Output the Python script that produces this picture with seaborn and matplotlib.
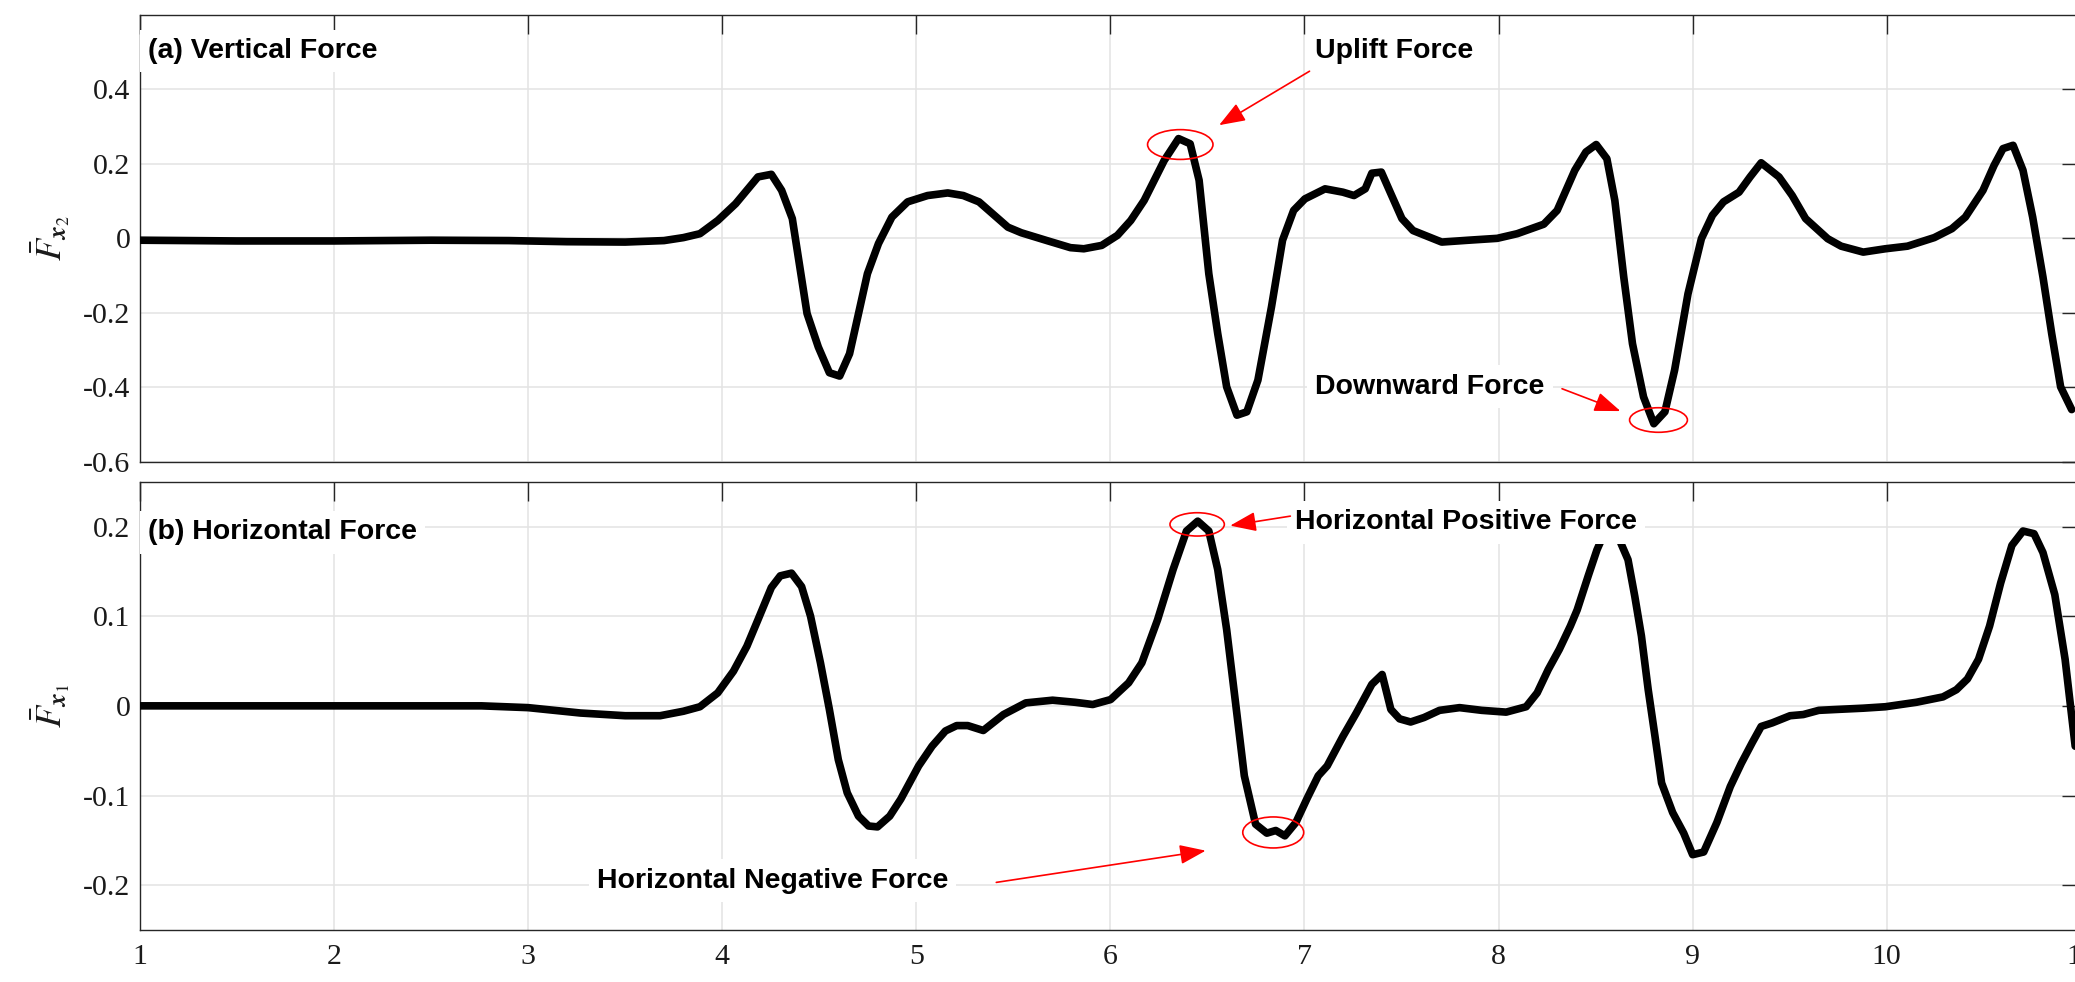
import matplotlib
matplotlib.use("Agg")
import matplotlib.pyplot as plt
from matplotlib.patches import Ellipse
import seaborn as sns

# Non-dimensional time and force coefficients
t_vert = [1.00, 1.50, 2.00, 2.50, 2.90, 3.20, 3.50, 3.70, 3.80, 3.885, 3.977, 4.069,
          4.184, 4.253, 4.306, 4.361, 4.437, 4.495, 4.552, 4.605, 4.656, 4.748, 4.805,
          4.874, 4.955, 5.058, 5.162, 5.242, 5.323, 5.472, 5.541, 5.679, 5.794, 5.863,
          5.955, 6.036, 6.105, 6.174, 6.277, 6.351, 6.411, 6.457, 6.507, 6.553, 6.599,
          6.652, 6.703, 6.760, 6.830, 6.887, 6.944, 7.002, 7.106, 7.198, 7.255, 7.313,
          7.347, 7.396, 7.445, 7.502, 7.559, 7.707, 7.845, 7.993, 8.096, 8.233, 8.302,
          8.393, 8.450, 8.503, 8.558, 8.599, 8.645, 8.690, 8.747, 8.800, 8.857, 8.907,
          8.976, 9.045, 9.102, 9.159, 9.239, 9.296, 9.353, 9.445, 9.513, 9.582, 9.696,
          9.765, 9.879, 9.993, 10.107, 10.245, 10.336, 10.405, 10.496, 10.553, 10.599,
          10.651, 10.702, 10.752, 10.805, 10.850, 10.896, 10.953]
f_vert = [-0.005, -0.007, -0.007, -0.005, -0.006, -0.009, -0.010, -0.006, 0.002, 0.0125,
          0.048, 0.093, 0.165, 0.172, 0.129, 0.053, -0.202, -0.292, -0.361, -0.370,
          -0.310, -0.095, -0.014, 0.057, 0.098, 0.115, 0.122, 0.115, 0.098, 0.030, 0.015,
          -0.007, -0.025, -0.028, -0.019, 0.008, 0.048, 0.102, 0.209, 0.268, 0.254, 0.156,
          -0.095, -0.256, -0.399, -0.475, -0.466, -0.381, -0.184, -0.005, 0.075, 0.106,
          0.133, 0.124, 0.115, 0.133, 0.175, 0.178, 0.120, 0.053, 0.021, -0.010, -0.005,
          0.000, 0.0125, 0.038, 0.075, 0.183, 0.232, 0.252, 0.214, 0.102, -0.104, -0.283,
          -0.426, -0.498, -0.466, -0.354, -0.149, -0.001, 0.062, 0.098, 0.124, 0.165,
          0.203, 0.165, 0.115, 0.053, -0.001, -0.021, -0.037, -0.028, -0.021, 0.002,
          0.026, 0.057, 0.129, 0.196, 0.241, 0.250, 0.183, 0.057, -0.104, -0.256, -0.399,
          -0.460]

t_horiz = [1.00, 2.00, 2.76, 3.00, 3.27, 3.50, 3.68, 3.80, 3.885, 3.977, 4.058, 4.127,
           4.184, 4.253, 4.299, 4.357, 4.409, 4.455, 4.506, 4.552, 4.598, 4.644, 4.702,
           4.754, 4.800, 4.863, 4.920, 5.012, 5.081, 5.150, 5.208, 5.265, 5.345, 5.449,
           5.564, 5.702, 5.817, 5.909, 6.001, 6.094, 6.162, 6.243, 6.323, 6.392, 6.450,
           6.507, 6.553, 6.599, 6.645, 6.690, 6.748, 6.806, 6.852, 6.899, 6.956, 7.014,
           7.071, 7.117, 7.198, 7.267, 7.347, 7.400, 7.445, 7.490, 7.547, 7.616, 7.696,
           7.799, 7.913, 8.039, 8.142, 8.199, 8.256, 8.313, 8.370, 8.405, 8.462, 8.507,
           8.560, 8.600, 8.633, 8.667, 8.702, 8.736, 8.771, 8.806, 8.840, 8.897, 8.954,
           9.000, 9.057, 9.125, 9.194, 9.251, 9.307, 9.353, 9.410, 9.502, 9.570, 9.650,
           9.742, 9.879, 9.993, 10.153, 10.290, 10.359, 10.416, 10.473, 10.530, 10.587,
           10.645, 10.702, 10.759, 10.805, 10.866, 10.919, 10.971]
f_horiz = [0.000, 0.000, 0.000, -0.002, -0.008, -0.011, -0.011, -0.006, -0.001, 0.0145,
           0.0387, 0.0665, 0.096, 0.132, 0.145, 0.148, 0.133, 0.100, 0.048, -0.004,
           -0.060, -0.097, -0.123, -0.134, -0.135, -0.123, -0.104, -0.067, -0.045, -0.028,
           -0.022, -0.022, -0.0275, -0.0097, 0.0033, 0.0063, 0.004, 0.0015, 0.007, 0.0257,
           0.048, 0.096, 0.152, 0.195, 0.206, 0.195, 0.152, 0.085, 0.003, -0.078, -0.132,
           -0.142, -0.139, -0.145, -0.130, -0.103, -0.078, -0.067, -0.034, -0.008, 0.024,
           0.035, -0.004, -0.0145, -0.018, -0.013, -0.005, -0.002, -0.005, -0.007, -0.001,
           0.0145, 0.0405, 0.063, 0.089, 0.107, 0.145, 0.174, 0.200, 0.198, 0.180, 0.163,
           0.122, 0.078, 0.018, -0.034, -0.086, -0.119, -0.142, -0.166, -0.163, -0.130,
           -0.090, -0.064, -0.041, -0.023, -0.019, -0.011, -0.0097, -0.005, -0.004,
           -0.0026, -0.001, 0.004, 0.010, 0.018, 0.030, 0.052, 0.089, 0.137, 0.179, 0.195,
           0.192, 0.171, 0.124, 0.052, -0.045]

x_ticks = [1, 2, 3, 4, 5, 6, 7, 8, 9, 10, 11]
x_labels = ["1", "2", "3", "4", "5", "6", "7", "8", "9", "10", "11"]
vert_ticks = [-0.6, -0.4, -0.2, 0.0, 0.2, 0.4]
vert_labels = ["-0.6", "-0.4", "-0.2", "0", "0.2", "0.4"]
horiz_ticks = [-0.2, -0.1, 0.0, 0.1, 0.2]
horiz_labels = ["-0.2", "-0.1", "0", "0.1", "0.2"]

sns.set_style("white")
plt.rcParams["font.family"] = ["Liberation Serif", "DejaVu Serif"]
plt.rcParams["mathtext.fontset"] = "stix"

fig = plt.figure(figsize=(20.75, 9.82), dpi=100)
ax_v = fig.add_axes([0.06747, 0.52984, 0.93533, 0.45489])
ax_h = fig.add_axes([0.06747, 0.05295, 0.93533, 0.45652])

frame = "#262626"
for ax in (ax_v, ax_h):
    ax.set_xlim(1, 11)
    ax.set_xticks(x_ticks)
    ax.set_xticklabels(x_labels)
    ax.grid(True, color="#e3e3e3", lw=1.1)
    ax.set_axisbelow(True)
    ax.tick_params(direction="in", length=13.5, width=1.0, color=frame,
                   top=True, right=True, labelsize=21.5, labelcolor="#1a1a1a")
    ax.tick_params(axis="y", pad=7)
    ax.tick_params(axis="x", pad=10)
    for s in ax.spines.values():
        s.set_color(frame)
        s.set_linewidth(1.0)

ax_v.tick_params(labelbottom=False)
ax_v.set_ylim(-0.6, 0.6)
ax_v.set_yticks(vert_ticks)
ax_v.set_yticklabels(vert_labels)
ax_h.set_ylim(-0.25, 0.25)
ax_h.set_yticks(horiz_ticks)
ax_h.set_yticklabels(horiz_labels)

sns.lineplot(x=t_vert, y=f_vert, ax=ax_v, color="black", lw=5.5,
             sort=False, estimator=None, zorder=3)
sns.lineplot(x=t_horiz, y=f_horiz, ax=ax_h, color="black", lw=5.5,
             sort=False, estimator=None, zorder=3)

ax_v.set_ylabel(r"$\bar{F}_{\boldsymbol{x}_2}$", fontsize=26, color="#1a1a1a")
ax_h.set_ylabel(r"$\bar{F}_{\boldsymbol{x}_1}$", fontsize=26, color="#1a1a1a")
ax_v.yaxis.set_label_coords(-0.035, 0.5)
ax_h.yaxis.set_label_coords(-0.035, 0.5)

label_kw = dict(fontsize=20.5, fontweight="bold", color="black",
                family=["Liberation Sans", "DejaVu Sans"],
                ha="left", va="baseline", zorder=5,
                bbox=dict(facecolor="white", edgecolor="none", pad=6))
ax_v.text(1.041, 0.484, "(a) Vertical Force", **label_kw)
ax_v.text(7.054, 0.484, "Uplift Force", **label_kw)
ax_v.text(7.054, -0.417, "Downward Force", **label_kw)
ax_h.text(1.041, 0.1856, "(b) Horizontal Force", **label_kw)
ax_h.text(6.950, 0.1968, "Horizontal Positive Force", **label_kw)
ax_h.text(3.354, -0.2028, "Horizontal Negative Force", **label_kw)

arrow_kw = dict(arrowstyle="-|>,head_length=0.8,head_width=0.3", color="red",
                lw=1.2, mutation_scale=20, shrinkA=0, shrinkB=0)
ax_v.annotate("", xy=(6.560, 0.304), xytext=(7.026, 0.449), arrowprops=arrow_kw, zorder=6)
ax_v.annotate("", xy=(8.628, -0.464), xytext=(8.327, -0.404), arrowprops=arrow_kw, zorder=6)
ax_h.annotate("", xy=(6.617, 0.201), xytext=(6.927, 0.2116), arrowprops=arrow_kw, zorder=6)
ax_h.annotate("", xy=(6.491, -0.1615), xytext=(5.412, -0.1969), arrowprops=arrow_kw, zorder=6)

ell_kw = dict(fill=False, edgecolor="red", lw=1.2, zorder=6)
ax_v.add_patch(Ellipse((6.360, 0.252), 0.337, 0.080, **ell_kw))
ax_v.add_patch(Ellipse((8.824, -0.488), 0.298, 0.066, **ell_kw))
ax_h.add_patch(Ellipse((6.447, 0.2024), 0.280, 0.026, **ell_kw))
ax_h.add_patch(Ellipse((6.839, -0.1412), 0.314, 0.0346, **ell_kw))

fig.savefig("out.png", dpi=100)
